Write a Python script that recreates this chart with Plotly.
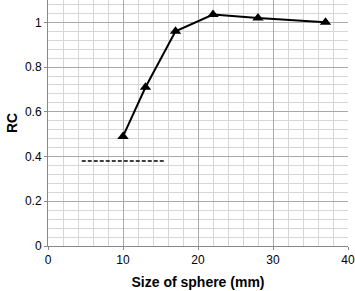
import plotly.graph_objects as go

sizes = [10, 13, 17, 22, 28, 37]
rc = [0.49, 0.71, 0.96, 1.035, 1.02, 1.0]
ref_x = [4.5, 15.7]
ref_y = [0.38, 0.38]

fig = go.Figure()
fig.add_trace(go.Scatter(x=ref_x, y=ref_y, mode="lines",
                         line=dict(color="black", width=1.5, dash="4px,2px"),
                         showlegend=False))
fig.add_trace(go.Scatter(x=sizes, y=rc, mode="lines+markers",
                         line=dict(color="black", width=2),
                         marker=dict(symbol="triangle-up", size=10, color="black"),
                         showlegend=False, cliponaxis=False))

font = dict(family="Liberation Sans, Arial, sans-serif", size=12, color="black")
fig.update_layout(
    width=355, height=291,
    margin=dict(l=48, r=7, t=0, b=45, autoexpand=False),
    paper_bgcolor="white", plot_bgcolor="white",
    font=font,
    xaxis=dict(range=[0, 40], dtick=10, tick0=0, automargin=False,
               showgrid=True, gridcolor="#a9a9a9", gridwidth=1,
               minor=dict(dtick=2, showgrid=True, gridcolor="#d6d6d6", gridwidth=1),
               showline=True, linecolor="#888888", linewidth=1,
               ticks="outside", ticklen=3, tickcolor="#888888",
               zeroline=False,
               title=dict(text="<b>Size of sphere (mm)</b>", font=dict(size=14), standoff=10)),
    yaxis=dict(range=[0, 1.1], dtick=0.2, tick0=0, automargin=False,
               showgrid=True, gridcolor="#a9a9a9", gridwidth=1,
               minor=dict(dtick=0.04, showgrid=True, gridcolor="#d6d6d6", gridwidth=1),
               showline=True, linecolor="#888888", linewidth=1,
               ticks="outside", ticklen=3, tickcolor="#888888",
               zeroline=False,
               title=dict(text="<b>RC</b>", font=dict(size=14), standoff=4)),
)
fig.write_html("out.html", config={"displayModeBar": False},
               post_script="document.body.style.margin='0';document.body.style.padding='0';")
